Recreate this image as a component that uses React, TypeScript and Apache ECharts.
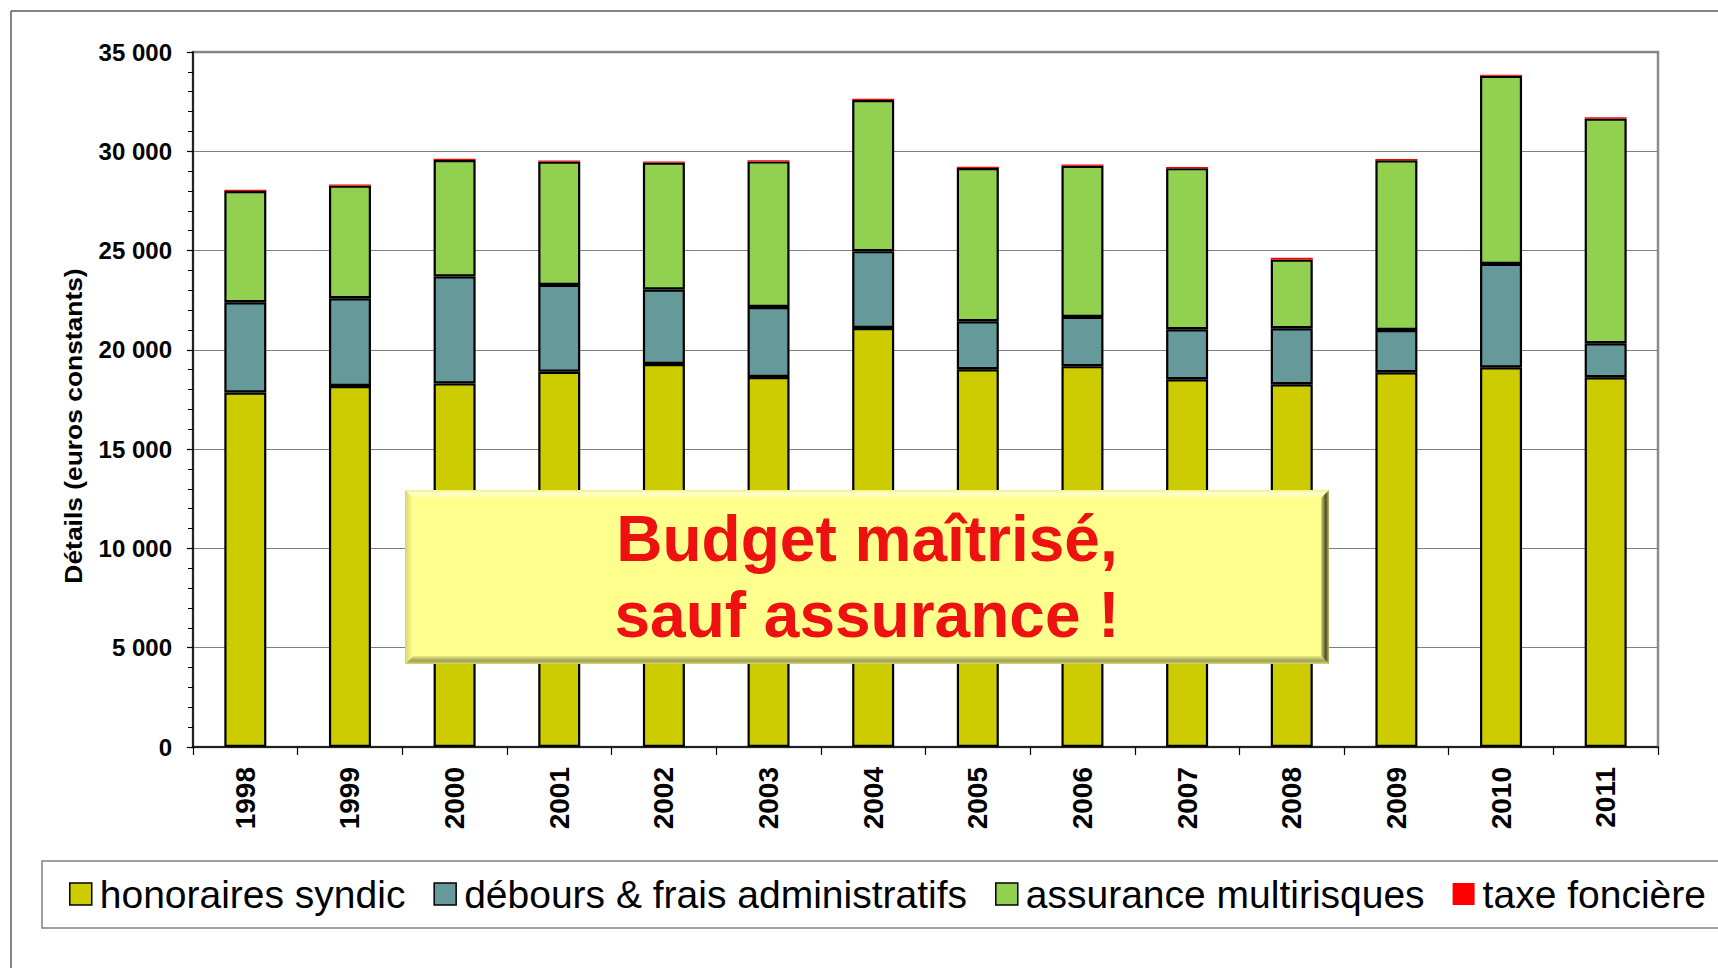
import React, { useEffect, useRef } from 'react';
import * as echarts from 'echarts';

const years = ['1998', '1999', '2000', '2001', '2002', '2003', '2004', '2005', '2006', '2007', '2008', '2009', '2010', '2011'];
const honoraires = [17850, 18180, 18310, 18900, 19290, 18630, 21100, 19020, 19180, 18520, 18270, 18870, 19120, 18620];
const debours = [4550, 4420, 5390, 4370, 3750, 3530, 3870, 2420, 2480, 2520, 2820, 2130, 5210, 1710];
const assurance = [5600, 5670, 5860, 6210, 6390, 7330, 7610, 7720, 7610, 8110, 3460, 8550, 9470, 11320];
const taxe = [60, 60, 60, 60, 60, 60, 60, 60, 60, 60, 90, 60, 60, 60];

const seriesNames = ['honoraires syndic', 'débours & frais administratifs', 'assurance multirisques', 'taxe foncière'];
const seriesColors = ['#CCCC00', '#669999', '#92D050', '#FF0000'];
const yAxisTitle = 'Détails (euros constants)';
const annotation = 'Budget maîtrisé,\nsauf assurance !';

const FONT = "'Liberation Sans', Arial, Helvetica, sans-serif";

function fmt(v: number): string {
  return String(v).replace(/\B(?=(\d{3})+(?!\d))/g, ' ');
}

export default function App() {
  const ref = useRef<HTMLDivElement>(null);

  useEffect(() => {
    document.body.style.margin = '0';
    const chart = echarts.init(ref.current as HTMLDivElement, null, { renderer: 'svg' });
    const data = [honoraires, debours, assurance, taxe];

    const bx = 405, by = 490, bw = 924, bh = 174, bev = 8;

    const option: any = {
      animation: false,
      backgroundColor: '#ffffff',
      textStyle: { fontFamily: FONT },
      grid: {
        left: 193, right: 60, top: 52, bottom: 221,
        show: true, borderColor: '#8c8c8c', borderWidth: 2.5, backgroundColor: 'transparent',
      },
      legend: {
        left: 69, top: 874, width: 1700, padding: 0, itemGap: 28,
        itemWidth: 22, itemHeight: 22, icon: 'rect', selectedMode: false,
        textStyle: { fontSize: 39, color: '#000', fontFamily: FONT, lineHeight: 40, padding: [0, 0, 0, 3] },
        data: seriesNames.map((n, i) => ({
          name: n,
          itemStyle: i < 3 ? { borderColor: '#000', borderWidth: 1.5 } : { borderWidth: 0 },
        })),
      },
      xAxis: {
        type: 'category',
        data: years,
        axisLine: { lineStyle: { color: '#000', width: 1.5 } },
        axisTick: { show: true, length: 8, lineStyle: { color: '#000', width: 1.2 } },
        axisLabel: { rotate: 90, margin: 20, fontSize: 28, fontWeight: 'bold', color: '#000', fontFamily: FONT },
        splitLine: { show: false },
      },
      yAxis: {
        type: 'value', min: 0, max: 35000, interval: 5000,
        axisLine: { show: true, lineStyle: { color: '#000', width: 1.5 } },
        axisTick: { show: true, length: 6, lineStyle: { color: '#000', width: 1.2 } },
        minorTick: { show: true, splitNumber: 5, length: 5, lineStyle: { color: '#000', width: 1 } },
        axisLabel: { margin: 21, fontSize: 24, fontWeight: 'bold', color: '#000', fontFamily: FONT, formatter: (v: number) => fmt(v) },
        splitLine: { lineStyle: { color: '#808080', width: 1 } },
      },
      series: seriesNames.map((n, i) => ({
        name: n,
        type: 'bar',
        stack: 'total',
        barWidth: 42,
        data: data[i],
        itemStyle: i < 3
          ? { color: seriesColors[i], borderColor: '#000', borderWidth: 2.2 }
          : { color: seriesColors[i], borderWidth: 0 },
      })),
      graphic: [
        { type: 'line', z: 1, shape: { x1: 11, y1: 11, x2: 1718, y2: 11 }, style: { stroke: '#5a5a5a', lineWidth: 1.5 } },
        { type: 'line', z: 1, shape: { x1: 11, y1: 11, x2: 11, y2: 968 }, style: { stroke: '#5a5a5a', lineWidth: 1.5 } },
        { type: 'rect', z: 1, shape: { x: 42, y: 861, width: 1720, height: 67 }, style: { fill: 'none', stroke: '#808080', lineWidth: 1.5 } },
        {
          type: 'text', z: 10, x: 73, y: 426, rotation: Math.PI / 2, scaleX: 1.1,
          style: { text: yAxisTitle, font: `bold 24px ${FONT}`, fill: '#000', textAlign: 'center', textVerticalAlign: 'middle' },
        },
        {
          type: 'group', z: 100,
          children: [
            { type: 'rect', z: 100, shape: { x: bx, y: by, width: bw, height: bh }, style: { fill: '#FFFF8E' } },
            {
              type: 'polygon', z: 101,
              shape: { points: [[bx, by], [bx + bw, by], [bx + bw - bev, by + bev], [bx + bev, by + bev]] },
              style: { fill: { type: 'linear', x: 0, y: 0, x2: 0, y2: 1, colorStops: [{ offset: 0, color: '#F0F080' }, { offset: 0.4, color: '#FFFFD0' }, { offset: 1, color: '#FFFF9A' }] } },
            },
            {
              type: 'polygon', z: 101,
              shape: { points: [[bx, by + bh], [bx + bw, by + bh], [bx + bw - bev, by + bh - bev], [bx + bev, by + bh - bev]] },
              style: { fill: { type: 'linear', x: 0, y: 0, x2: 0, y2: 1, colorStops: [{ offset: 0, color: '#EAEA84' }, { offset: 0.6, color: '#9E9E58' }, { offset: 1, color: '#DADA70' }] } },
            },
            {
              type: 'polygon', z: 101,
              shape: { points: [[bx, by], [bx + bev, by + bev], [bx + bev, by + bh - bev], [bx, by + bh]] },
              style: { fill: { type: 'linear', x: 0, y: 0, x2: 1, y2: 0, colorStops: [{ offset: 0, color: '#D6D66E' }, { offset: 1, color: '#FFFF90' }] } },
            },
            {
              type: 'polygon', z: 101,
              shape: { points: [[bx + bw, by], [bx + bw - bev, by + bev], [bx + bw - bev, by + bh - bev], [bx + bw, by + bh]] },
              style: { fill: { type: 'linear', x: 0, y: 0, x2: 1, y2: 0, colorStops: [{ offset: 0, color: '#D8D874' }, { offset: 0.6, color: '#4C4C28' }, { offset: 1, color: '#BFBF5E' }] } },
            },
            {
              type: 'text', z: 102, x: bx + bw / 2, y: 577,
              style: { text: annotation, font: `bold 64px ${FONT}`, fill: '#EE1111', textAlign: 'center', textVerticalAlign: 'middle', lineHeight: 76 },
            },
          ],
        },
      ],
    };

    chart.setOption(option);
    return () => chart.dispose();
  }, []);

  return <div ref={ref} style={{ position: 'absolute', left: 0, top: 0, width: 1718, height: 968 }} />;
}
